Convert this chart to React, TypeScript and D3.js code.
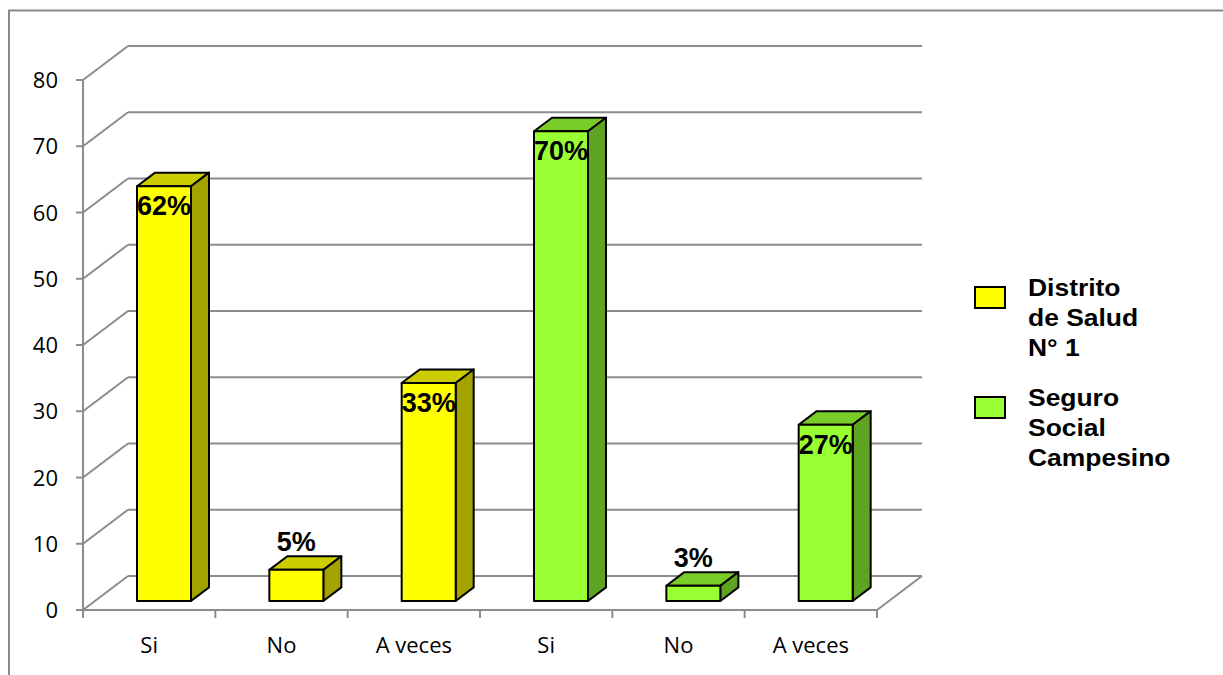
import React from "react";
import * as d3 from "d3";

const categories = ["Si", "No", "A veces", "Si", "No", "A veces"];
const values = [62.6, 4.7, 32.9, 70.9, 2.3, 26.6];
const labels = ["62%", "5%", "33%", "70%", "3%", "27%"];
const seriesIndex = [0, 0, 0, 1, 1, 1];
const seriesNames = [["Distrito", "de Salud", "N° 1"], ["Seguro", "Social", "Campesino"]];
const yTicks = [0, 10, 20, 30, 40, 50, 60, 70, 80];

const palette = [
  { front: "#FFFF00", top: "#CCCC00", side: "#A3A300" },
  { front: "#99FF33", top: "#7ACC29", side: "#5FA323" },
];

const W = 1223, H = 675;
const X0 = 83, X1 = 877;
const DX = 45, DY = -34;
const GRID = "#8c8c8c";
const AXIS_FONT = "'Open Sans', Lato, sans-serif";
const BOLD_FONT = "'Liberation Sans', Arial, sans-serif";

export default function App() {
  const y = d3.scaleLinear().domain([0, 80]).range([610, 80]);
  const xb = d3.scaleBand<number>().domain(d3.range(categories.length)).range([X0, X1]).padding(0);
  const bw = xb.bandwidth();
  const P = (px: number, py: number, z: number): [number, number] => [px + z * DX, py + z * DY];
  const pts = (a: [number, number][]) => a.map((p) => p.join(",")).join(" ");
  const z0 = 0.265, z1 = 0.665;
  const barOff = bw * 0.318, barW = 54;

  return (
    <svg width={W} height={H} style={{ display: "block", position: "absolute", left: 0, top: 0 }}>
      {/* outer frame */}
      <line x1={8} y1={10.5} x2={W} y2={10.5} stroke="#8a8a8a" strokeWidth={2} />
      <line x1={9} y1={10} x2={9} y2={H} stroke="#8a8a8a" strokeWidth={2} />

      {/* gridlines: back wall + left wall */}
      {yTicks.map((v) => {
        const f = P(X0, y(v), 0);
        const b = P(X0, y(v), 1);
        const br = P(X1, y(v), 1);
        return (
          <g key={"g" + v}>
            <line x1={f[0]} y1={f[1]} x2={b[0]} y2={b[1]} stroke={GRID} strokeWidth={2} />
            <line x1={b[0]} y1={b[1]} x2={br[0]} y2={br[1]} stroke={GRID} strokeWidth={2} />
            <line x1={X0 - 7} y1={y(v)} x2={X0} y2={y(v)} stroke={GRID} strokeWidth={2} />
            <text x={58} y={y(v) + 8} textAnchor="end" fontFamily={AXIS_FONT} fontSize={22} fill="#000">
              {v}
            </text>
          </g>
        );
      })}
      {/* floor */}
      <line x1={X0} y1={y(0)} x2={X1} y2={y(0)} stroke={GRID} strokeWidth={2} />
      <line x1={X1} y1={y(0)} x2={X1 + DX} y2={y(0) + DY} stroke={GRID} strokeWidth={2} />
      {/* y axis */}
      <line x1={X0} y1={y(80)} x2={X0} y2={y(0)} stroke={GRID} strokeWidth={2} />
      {/* x ticks */}
      {d3.range(categories.length + 1).map((i) => (
        <line key={"t" + i} x1={X0 + i * bw} y1={y(0)} x2={X0 + i * bw} y2={y(0) + 8} stroke={GRID} strokeWidth={2} />
      ))}
      {categories.map((c, i) => (
        <text key={"c" + i} x={(xb(i) as number) + bw / 2} y={653} textAnchor="middle" fontFamily={AXIS_FONT} fontSize={22} fill="#000">
          {c}
        </text>
      ))}

      {/* bars */}
      {values.map((v, i) => {
        const col = palette[seriesIndex[i]];
        const xl = (xb(i) as number) + barOff;
        const xr = xl + barW;
        const yt = y(v), yb = y(0);
        const fTL = P(xl, yt, z0), fTR = P(xr, yt, z0), fBR = P(xr, yb, z0), fBL = P(xl, yb, z0);
        const bTL = P(xl, yt, z1), bTR = P(xr, yt, z1), bBR = P(xr, yb, z1);
        return (
          <g key={"b" + i} stroke="#000" strokeWidth={2} strokeLinejoin="round">
            <polygon points={pts([fTL, fTR, bTR, bTL])} fill={col.top} />
            <polygon points={pts([fTR, bTR, bBR, fBR])} fill={col.side} />
            <polygon points={pts([fTL, fTR, fBR, fBL])} fill={col.front} />
          </g>
        );
      })}
      {/* data labels */}
      {values.map((v, i) => {
        const xl = (xb(i) as number) + barOff;
        const f = P(xl + barW / 2, y(v), z0);
        const back = P(xl, y(v), z1);
        const inside = v >= 10;
        const ty = inside ? f[1] + 29 : back[1] - 5;
        return (
          <text key={"l" + i} x={f[0]} y={ty} textAnchor="middle" fontFamily={BOLD_FONT} fontWeight="bold" fontSize={27} fill="#000">
            {labels[i]}
          </text>
        );
      })}

      {/* legend */}
      {seriesNames.map((lines, s) => {
        const top = s === 0 ? 287 : 397;
        const base = s === 0 ? 296 : 406;
        return (
          <g key={"lg" + s}>
            <rect x={975} y={top} width={30} height={21} fill={palette[s].front} stroke="#000" strokeWidth={2} />
            {lines.map((t, j) => (
              <text key={j} transform={`translate(1028,${base + j * 30}) scale(1.15,1)`} fontFamily={BOLD_FONT} fontWeight="bold" fontSize={23} fill="#000">
                {t}
              </text>
            ))}
          </g>
        );
      })}
    </svg>
  );
}
